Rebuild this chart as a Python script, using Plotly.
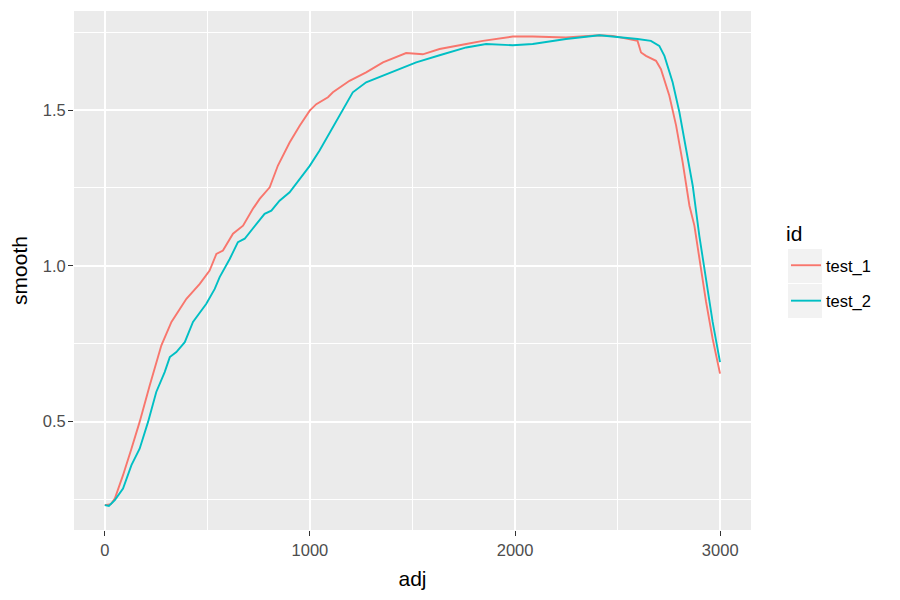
import plotly.graph_objects as go

# ---- data ----
series_names = ["test_1", "test_2"]

test1_adj = [0, 30, 49, 89, 130, 170, 219, 251, 276, 325, 398, 463, 511, 544, 576,
             625, 674, 722, 755, 804, 844, 901, 950, 999, 1031, 1088, 1112, 1193,
             1274, 1356, 1469, 1550, 1632, 1762, 1843, 1989, 2086, 2248, 2411, 2476,
             2597, 2614, 2638, 2687, 2711, 2752, 2785, 2817, 2850, 2874, 2898, 2931,
             2963, 2999]
test1_smooth = [0.232, 0.235, 0.253, 0.328, 0.413, 0.499, 0.616, 0.691, 0.745, 0.820,
                0.894, 0.942, 0.985, 1.038, 1.049, 1.103, 1.129, 1.183, 1.215, 1.252,
                1.322, 1.396, 1.450, 1.498, 1.519, 1.541, 1.557, 1.594, 1.621, 1.653,
                1.683, 1.679, 1.696, 1.712, 1.722, 1.736, 1.736, 1.733, 1.740, 1.738,
                1.722, 1.685, 1.674, 1.658, 1.631, 1.546, 1.450, 1.332, 1.193, 1.129,
                1.022, 0.884, 0.766, 0.654]

test2_adj = [0, 20, 49, 89, 130, 170, 211, 251, 292, 317, 349, 390, 430, 495, 536,
             560, 609, 649, 682, 731, 779, 812, 852, 901, 950, 999, 1047, 1096, 1161,
             1209, 1274, 1356, 1437, 1518, 1632, 1762, 1859, 1989, 2086, 2248, 2411,
             2500, 2597, 2662, 2703, 2728, 2768, 2801, 2833, 2866, 2898, 2931, 2963,
             2999]
test2_smooth = [0.232, 0.229, 0.248, 0.285, 0.360, 0.413, 0.499, 0.595, 0.659, 0.707,
                0.723, 0.755, 0.820, 0.878, 0.926, 0.964, 1.022, 1.076, 1.087, 1.129,
                1.167, 1.177, 1.209, 1.236, 1.279, 1.321, 1.370, 1.428, 1.503, 1.557,
                1.589, 1.610, 1.631, 1.653, 1.676, 1.701, 1.712, 1.708, 1.712, 1.728,
                1.740, 1.735, 1.728, 1.722, 1.706, 1.674, 1.589, 1.493, 1.375, 1.257,
                1.097, 0.948, 0.820, 0.691]

x_ticks = [0, 1000, 2000, 3000]
y_ticks = [0.5, 1.0, 1.5]
y_tick_text = ["0.5", "1.0", "1.5"]
legend_title = "id"
x_title = "adj"
y_title = "smooth"

colors = ["#F8766D", "#00BFC4"]
FONT = "Liberation Sans, Arial, Helvetica, sans-serif"

fig = go.Figure()
for name, xs, ys, col in zip(series_names, [test1_adj, test2_adj],
                             [test1_smooth, test2_smooth], colors):
    fig.add_trace(go.Scatter(x=xs, y=ys, mode="lines", name=name, legendgroup=name,
                             line=dict(color=col, width=1.9)))

# page has an 8px body margin; work in screen coordinates
OFF = 8
W, H = 900 - OFF, 600 - OFF
PL, PR, PT, PB = 74, 751, 11, 530          # panel edges on screen
L, R, T, B = PL - OFF, W - (PR - OFF), PT - OFF, H - (PB - OFF)
pw, ph = W - L - R, H - T - B

def px(xs):
    return (xs - OFF - L) / pw

def py(ys):
    return (H - B - (ys - OFF)) / ph

# grey legend key backgrounds
for y0, y1 in [(249, 283), (284, 318)]:
    fig.add_shape(type="rect", xref="paper", yref="paper",
                  x0=px(788), x1=px(822), y0=py(y1), y1=py(y0),
                  fillcolor="#F2F2F2", line=dict(width=0), layer="below")

fig.add_annotation(text=legend_title, xref="paper", yref="paper",
                   x=px(784), y=py(233), xanchor="left", yanchor="middle",
                   showarrow=False, font=dict(size=21, color="black", family=FONT))

fig.update_layout(
    width=W, height=H,
    margin=dict(l=L, r=R, t=T, b=B, autoexpand=False),
    paper_bgcolor="white",
    plot_bgcolor="#EBEBEB",
    font=dict(family=FONT, color="#4D4D4D", size=17),
    xaxis=dict(
        range=[-150, 3150], tickvals=x_ticks, ticktext=[str(v) for v in x_ticks],
        showgrid=True, gridcolor="white", gridwidth=1.8, zeroline=False,
        ticks="outside", ticklen=5, tickwidth=1.4, tickcolor="#333333",
        tickfont=dict(size=16.5, color="#4D4D4D"),
        minor=dict(tickvals=[500, 1500, 2500], showgrid=True, gridcolor="white",
                   gridwidth=0.9, ticks=""),
        title=dict(text=x_title, font=dict(size=21, color="black"), standoff=13),
        showline=False, automargin=False,
    ),
    yaxis=dict(
        range=[0.152, 1.818], tickvals=y_ticks, ticktext=y_tick_text,
        showgrid=True, gridcolor="white", gridwidth=1.8, zeroline=False,
        ticks="outside", ticklen=5, tickwidth=1.4, tickcolor="#333333",
        tickfont=dict(size=16.5, color="#4D4D4D"),
        ticklabelstandoff=-1,
        minor=dict(tickvals=[0.25, 0.75, 1.25, 1.75], showgrid=True,
                   gridcolor="white", gridwidth=0.9, ticks=""),
        title=dict(text=y_title, font=dict(size=21, color="black"), standoff=10),
        showline=False, automargin=False,
    ),
    legend=dict(
        x=px(786), y=py(248), xanchor="left", yanchor="top",
        bgcolor="rgba(0,0,0,0)",
        font=dict(size=16.5, color="black"),
        tracegroupgap=11,
        itemwidth=30,
    ),
)

fig.write_html("out.html")
